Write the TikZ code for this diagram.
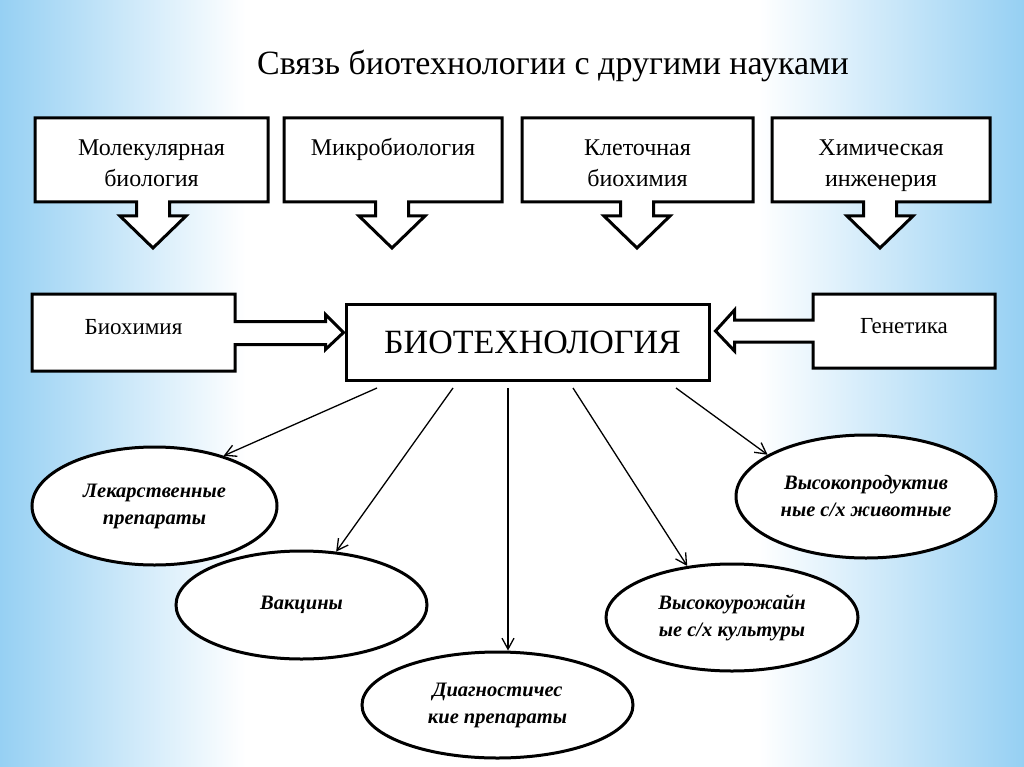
\documentclass[tikz,border=0pt]{standalone}
\usepackage{fontspec}
\setmainfont{Liberation Serif}
\usetikzlibrary{shapes.geometric,arrows.meta,calc,backgrounds}
\definecolor{bgblue}{RGB}{150,208,243}
\pgfdeclarehorizontalshading{bgshade}{100bp}{color(0bp)=(bgblue); color(25bp)=(bgblue); color(37bp)=(white); color(62bp)=(white); color(75bp)=(bgblue); color(100bp)=(bgblue)}
\tikzset{
  outl/.style={draw=black, line width=3pt, line join=miter, fill=white},
  topbox/.style={inner sep=0pt, outer sep=0pt, align=center,
    text height=60pt, text depth=6pt,
    font=\fontsize{24}{31}\selectfont},
  midbox/.style={inner sep=0pt, outer sep=0pt, align=center,
    font=\fontsize{23}{26}\selectfont},
  mainbox/.style={draw=black, line width=3pt, fill=white, inner sep=0pt,
    font=\fontsize{34}{40}\selectfont},
  oval/.style={ellipse, draw=black, line width=3pt, fill=white, inner sep=0pt,
    align=center, font=\fontsize{20.5}{27}\selectfont\bfseries\itshape},
  link/.style={draw=black, line width=1.3pt, -{Straight Barb[length=11pt,width=12pt]}}
}
\begin{document}
\begin{tikzpicture}[x=1pt,y=-1pt]
\useasboundingbox (0,0) rectangle (1024,767);
\begin{scope}[on background layer]
  \shade[shading=bgshade] (0,0) rectangle (1024,767);
\end{scope}

% title
\node[font=\fontsize{34}{40}\selectfont] (title) at (553,66) {Связь биотехнологии с другими науками};

% top boxes
\node[topbox, minimum width=233pt, minimum height=84pt] (mol) at (151.5,160) {Молекулярная\\биология};
\node[topbox, minimum width=218pt, minimum height=84pt] (mic) at (393,160) {Микробиология\\\mbox{}};
\node[topbox, minimum width=231pt, minimum height=84pt] (kle) at (637.5,160) {Клеточная\\биохимия};
\node[topbox, minimum width=218pt, minimum height=84pt] (him) at (881,160) {Химическая\\инженерия};
\coordinate (mol-tip) at (153,248);
\coordinate (mic-tip) at (392,248);
\coordinate (kle-tip) at (637,248);
\coordinate (him-tip) at (880,248);

\begin{scope}[on background layer]
\foreach \n in {mol,mic,kle,him}{
  \draw[outl] (\n.north west) -- (\n.north east) -- (\n.south east)
    -- ($(\n-tip)+(16.5,-46)$) -- ($(\n-tip)+(16.5,-32)$) -- ($(\n-tip)+(33,-32)$)
    -- (\n-tip) -- ($(\n-tip)+(-33,-32)$) -- ($(\n-tip)+(-16.5,-32)$)
    -- ($(\n-tip)+(-16.5,-46)$) -- (\n.south west) -- cycle;
}
\end{scope}

% middle row
\node[mainbox, minimum width=363pt, minimum height=76pt] (main) at (527.5,342) {\hspace*{10pt}БИОТЕХНОЛОГИЯ};
\node[midbox, minimum width=203pt, minimum height=77pt, text depth=12pt] (bio) at (133.5,332.5) {Биохимия};
\node[midbox, minimum width=182pt, minimum height=74pt, text depth=10pt] (gen) at (904,331) {Генетика};
\coordinate (bio-tip) at ($(bio.east -| main.west)+(-1,0)$);
\coordinate (gen-tip) at ($(gen.west -| main.east)+(5,0)$);
\begin{scope}[on background layer]
  \draw[outl] (bio.north west) -- (bio.north east) -- ($(bio.east)+(0,-11)$)
    -- ($(bio-tip)+(-18,-11)$) -- ($(bio-tip)+(-18,-18)$) -- (bio-tip)
    -- ($(bio-tip)+(-18,17)$) -- ($(bio-tip)+(-18,12)$) -- ($(bio.east)+(0,12)$)
    -- (bio.south east) -- (bio.south west) -- cycle;
  \draw[outl] (gen.north east) -- (gen.north west) -- ($(gen.west)+(0,-11)$)
    -- ($(gen-tip)+(19,-11)$) -- ($(gen-tip)+(19,-21)$) -- (gen-tip)
    -- ($(gen-tip)+(19,20)$) -- ($(gen-tip)+(19,11)$) -- ($(gen.west)+(0,11)$)
    -- (gen.south west) -- (gen.south east) -- cycle;
\end{scope}

% ellipses
\node[oval, minimum width=245pt, minimum height=118pt] (lek) at (154.5,506) {Лекарственные\\препараты};
\node[oval, minimum width=251pt, minimum height=108pt] (vac) at (301.5,605) {Вакцины};
\node[oval, minimum width=271pt, minimum height=106pt] (dia) at (497.5,705) {Диагностичес\\кие препараты};
\node[oval, minimum width=252pt, minimum height=107pt] (uro) at (732,617.5) {Высокоурожайн\\ые с/х культуры};
\node[oval, minimum width=260pt, minimum height=123pt] (pro) at (866,496.5) {Высокопродуктив\\ные с/х животные};

% connectors
\coordinate (s1) at (377,388);
\coordinate (s2) at (453,388);
\coordinate (s3) at (508,388);
\coordinate (s4) at (573,388);
\coordinate (s5) at (676,388);
\draw[link] (s1) -- (lek.36);
\draw[link] (s2) -- (vac.57);
\draw[link] (s3) -- (s3 |- dia.north);
\draw[link] (s4) -- (uro.131);
\draw[link] (s5) -- (pro.157);
\end{tikzpicture}
\end{document}
